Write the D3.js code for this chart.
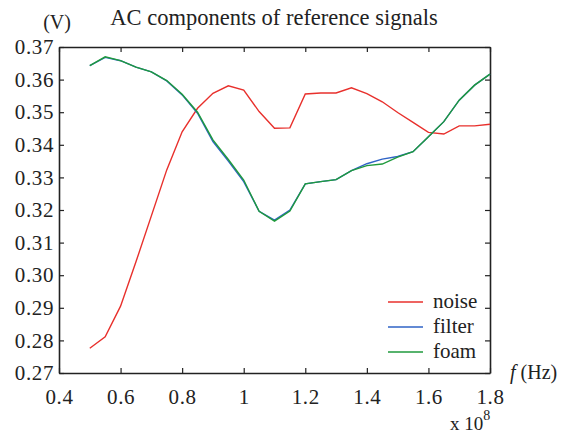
<!DOCTYPE html>
<html>
<head>
<meta charset="utf-8">
<script src="https://cdn.jsdelivr.net/npm/d3@7"></script>
<style>
    body { margin: 0; background: #fff; }
    text { font-family: "Liberation Serif", "DejaVu Serif", serif; fill: #222; }
    .axis path, .axis line { stroke: #222; }
</style>
</head>
<body>
<div id="chart"></div>
<script>
// Frequencies (x 10^8 Hz)
let freqs = [0.5, 0.55, 0.6, 0.65, 0.7, 0.75, 0.8, 0.85, 0.9, 0.95, 1.0, 1.05, 1.1, 1.15,
    1.2, 1.25, 1.3, 1.35, 1.4, 1.45, 1.5, 1.55, 1.6, 1.65, 1.7, 1.75, 1.8];

// Series values (V)
let noise = [0.2776, 0.2811, 0.2905, 0.3041, 0.3182, 0.3323, 0.3440, 0.3512, 0.3558, 0.3581,
    0.3568, 0.3502, 0.3451, 0.3452, 0.3556, 0.3559, 0.3559, 0.3575, 0.3557, 0.3532,
    0.3499, 0.3469, 0.3438, 0.3433, 0.3458, 0.3458, 0.3463];
let filter = [0.3643, 0.3668, 0.3658, 0.3638, 0.3624, 0.3596, 0.3553, 0.3497, 0.3410, 0.3350,
    0.3287, 0.3196, 0.3169, 0.3200, 0.3280, 0.3287, 0.3293, 0.3321, 0.3342, 0.3356,
    0.3364, 0.3379, 0.3425, 0.3471, 0.3537, 0.3583, 0.3617];
let foam = [0.3643, 0.3670, 0.3658, 0.3638, 0.3624, 0.3597, 0.3555, 0.3500, 0.3415, 0.3355,
    0.3292, 0.3196, 0.3166, 0.3197, 0.3280, 0.3287, 0.3293, 0.3321, 0.3336, 0.3341,
    0.3362, 0.3379, 0.3425, 0.3471, 0.3537, 0.3583, 0.3617];

let seriesNames = ["noise", "filter", "foam"];
let seriesColors = ["#e8302c", "#2f63c6", "#1f9a3c"];
let xTicks = [0.4, 0.6, 0.8, 1.0, 1.2, 1.4, 1.6, 1.8];
let yTicks = [0.27, 0.28, 0.29, 0.30, 0.31, 0.32, 0.33, 0.34, 0.35, 0.36, 0.37];

let W = 563, H = 434;
let margin = {top: 47, right: 73, bottom: 61, left: 59};
let width = W - margin.left - margin.right;
let height = H - margin.top - margin.bottom;

let svg = d3.select("#chart").append("svg")
    .attr("width", W)
    .attr("height", H)
    .append("g")
    .attr("transform", "translate(" + margin.left + "," + margin.top + ")");

// Scales
let x = d3.scaleLinear().domain([0.4, 1.8]).range([0, width]);
let y = d3.scaleLinear().domain([0.27, 0.37]).range([height, 0]);

let fmtX = d => String(+d.toFixed(1));

// Axes (ticks pointing inward, box on all sides)
let xAxis = d3.axisBottom(x).tickValues(xTicks).tickSize(-5).tickSizeOuter(0).tickPadding(16).tickFormat(fmtX);
let xTop = d3.axisTop(x).tickValues(xTicks).tickSize(-5).tickSizeOuter(0).tickFormat("");
let yAxis = d3.axisLeft(y).tickValues(yTicks).tickSize(-5).tickSizeOuter(0).tickPadding(5).tickFormat(d3.format(".2f"));
let yRight = d3.axisRight(y).tickValues(yTicks).tickSize(-5).tickSizeOuter(0).tickFormat("");

svg.append("g").attr("class", "x-axis axis")
    .attr("transform", "translate(0," + height + ")")
    .call(xAxis);
svg.append("g").attr("class", "axis").call(xTop);
svg.append("g").attr("class", "y-axis axis").call(yAxis);
svg.append("g").attr("class", "axis")
    .attr("transform", "translate(" + width + ",0)")
    .call(yRight);

svg.selectAll(".axis path").attr("stroke-width", 1.6);
svg.selectAll(".axis line").attr("stroke-width", 1.2);
svg.selectAll(".axis text")
    .style("font-size", "21px")
    .style("letter-spacing", "0.6px")
    .attr("fill", "#222");

// Lines
let allSeries = [noise, filter, foam];
let line = d3.line()
    .x((d, i) => x(freqs[i]))
    .y(d => y(d));

allSeries.forEach((s, k) => {
    svg.append("path")
        .datum(s)
        .attr("fill", "none")
        .attr("stroke", seriesColors[k])
        .attr("stroke-width", 1.4)
        .attr("d", line);
});

// Legend
let legend = svg.append("g").attr("transform", "translate(" + (388 - margin.left) + "," + (302 - margin.top) + ")");
seriesNames.forEach((name, k) => {
    legend.append("line")
        .attr("x1", 0).attr("x2", 35)
        .attr("y1", k * 25).attr("y2", k * 25)
        .attr("stroke", seriesColors[k])
        .attr("stroke-width", 1.4);
    legend.append("text")
        .attr("x", 45).attr("y", k * 25 + 6)
        .style("font-size", "21px")
        .text(name);
});

// Title and unit labels
svg.append("text")
    .attr("x", 274 - margin.left).attr("y", 25 - margin.top)
    .attr("text-anchor", "middle")
    .style("font-size", "22.5px")
    .text("AC components of reference signals");

svg.append("text")
    .attr("x", 57 - margin.left).attr("y", 29 - margin.top)
    .attr("text-anchor", "middle")
    .style("font-size", "20px")
    .text("(V)");

let fLabel = svg.append("text")
    .attr("x", 510 - margin.left).attr("y", 379 - margin.top)
    .style("font-size", "20px");
fLabel.append("tspan").style("font-style", "italic").text("f");
fLabel.append("tspan").text(" (Hz)");

let exp = svg.append("text")
    .attr("x", 450 - margin.left).attr("y", 430 - margin.top)
    .style("font-size", "19px");
exp.append("tspan").text("x 10");
exp.append("tspan").attr("dy", -10).style("font-size", "14px").text("8");
</script>
</body>
</html>
